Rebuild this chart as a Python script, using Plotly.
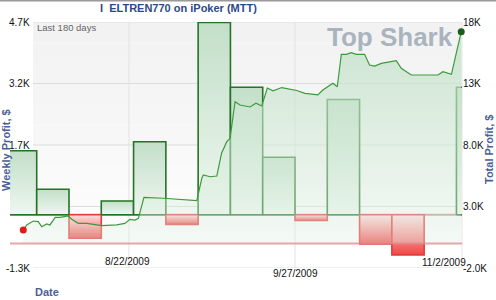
import plotly.graph_objects as go
from datetime import datetime, timedelta

# ---------------- data ----------------
week_starts = ['2009-07-26', '2009-08-02', '2009-08-09', '2009-08-16', '2009-08-23',
               '2009-08-30', '2009-09-06', '2009-09-13', '2009-09-20', '2009-09-27',
               '2009-10-04', '2009-10-11', '2009-10-18', '2009-10-25', '2009-11-01']
weekly_profit = [1560, 620, -575, 335, 1780, -235, 4690, 3110, 1400, -140,
                 2810, -715, -980, 0, 3110]

total_dates = ['2009-07-30 02:00', '2009-07-30 20:00', '2009-08-01 06:00', '2009-08-02 08:00',
               '2009-08-03 02:00', '2009-08-04 04:00', '2009-08-04 21:00', '2009-08-06 00:00',
               '2009-08-07 01:00', '2009-08-08 20:00', '2009-08-09 14:00', '2009-08-11 00:00',
               '2009-08-12 20:00', '2009-08-14 06:00', '2009-08-16 02:00', '2009-08-19 08:00',
               '2009-08-21 03:00', '2009-08-22 05:00', '2009-08-23 08:00', '2009-08-24 01:00',
               '2009-08-25 06:00', '2009-08-29 11:00', '2009-09-02 02:00', '2009-09-05 17:00',
               '2009-09-06 19:00', '2009-09-07 03:00', '2009-09-08 14:00', '2009-09-10 01:00',
               '2009-09-11 02:00', '2009-09-12 05:00', '2009-09-12 22:00', '2009-09-14 00:00',
               '2009-09-15 02:00', '2009-09-16 04:00', '2009-09-17 06:00', '2009-09-18 13:00',
               '2009-09-19 19:00', '2009-09-21 00:00', '2009-09-22 06:00', '2009-09-24 03:00',
               '2009-09-27 09:00', '2009-09-29 04:00', '2009-10-01 23:00', '2009-10-03 01:00',
               '2009-10-04 12:00', '2009-10-05 05:00', '2009-10-06 04:00', '2009-10-07 01:00',
               '2009-10-08 03:00', '2009-10-09 05:00', '2009-10-10 07:00', '2009-10-12 02:00',
               '2009-10-13 04:00', '2009-10-14 06:00', '2009-10-15 17:00', '2009-10-18 23:00',
               '2009-10-20 01:00', '2009-10-22 05:00', '2009-10-28 00:00', '2009-10-29 02:00',
               '2009-10-30 22:00', '2009-11-02 01:00']
total_profit = [1090, 1500, 1820, 1770, 1360, 1580, 1500, 2120, 2120, 2230,
                1960, 1630, 1630, 1550, 1440, 1500, 1630, 1960, 1900, 2040,
                3750, 3670, 3590, 3470, 5290, 5560, 5420, 5480, 7330, 8270,
                8540, 11520, 11250, 11170, 11090, 11390, 11170, 12630, 12410, 12670,
                12430, 12200, 12070, 12470, 12880, 13020, 12740, 15370, 15370, 15500,
                15370, 15370, 14500, 14420, 14640, 14850, 14240, 13690, 13690, 13960,
                13750, 17210]

left_ticks = [-1300, 200, 1700, 3200, 4700]
left_ticktext = ['-1.3K', '', '1.7K', '3.2K', '4.7K']
right_ticks = [-2000, 3000, 8000, 13000, 18000]
right_ticktext = ['-2.0K', '3.0K', '8.0K', '13K', '18K']
x_label_dates = ['2009-08-22', '2009-09-27', '2009-11-02']
x_label_text = ['8/22/2009', '9/27/2009', '11/2/2009']

title_text = 'I  ELTREN770 on iPoker (MTT)'
x_range = ['2009-07-27 05:00', '2009-11-02 05:00']

# ---------------- figure ----------------
W, H = 496, 300
ML, MR, MT, MB = 10, 34, 22, 32
PW, PH = W - ML - MR, H - MT - MB


def px_x(px):
    return (px - ML) / PW


def px_y(py):
    return (H - MB - py) / PH


fig = go.Figure()

# total profit fill (below bars)
fig.add_trace(go.Scatter(
    x=total_dates, y=total_profit, yaxis='y2', mode='lines',
    line=dict(width=0, color='rgba(0,0,0,0)'), fill='tozeroy',
    fillgradient=dict(type='vertical', start=0, stop=max(total_profit),
                      colorscale=[[0, 'rgba(225,241,228,0.35)'], [1, 'rgba(192,224,199,0.8)']]),
    hoverinfo='skip', showlegend=False))

# weekly bars as filled rectangles with vertical gradient
for ws, v in zip(week_starts, weekly_profit):
    if v == 0:
        continue
    d0 = datetime.strptime(ws, '%Y-%m-%d')
    d1 = d0 + timedelta(days=7)
    xs = [d0, d0, d1, d1, d0]
    ys = [0, v, v, 0, 0]
    if v > 0:
        border = '#267326'
        cs = [[0, '#eef7f0'], [1, '#c3dfc9']]
    else:
        border = '#e23b3b'
        cs = [[0, '#f14646'], [1, '#fde2e2']]
    fig.add_trace(go.Scatter(
        x=xs, y=ys, mode='lines', fill='toself',
        line=dict(color=border, width=1.6),
        fillgradient=dict(type='vertical', colorscale=cs),
        hoverinfo='skip', showlegend=False))

# total profit line (above bars)
fig.add_trace(go.Scatter(
    x=total_dates, y=total_profit, yaxis='y2', mode='lines',
    line=dict(color='#3c9a3c', width=1.2),
    hoverinfo='skip', showlegend=False))

# start / end markers
fig.add_trace(go.Scatter(
    x=[total_dates[0], total_dates[-1]], y=[total_profit[0], total_profit[-1]],
    yaxis='y2', mode='markers',
    marker=dict(size=7, color=['#e01b1b', '#1b5e1b']),
    hoverinfo='skip', showlegend=False, cliponaxis=False))

shapes = []
# background gradient bands (start at 8/1 like the reference)
bg_x0 = px_x(33)
nb = 12
for i in range(nb):
    t = i / (nb - 1)
    c = int(242 + (255 - 242) * t)
    shapes.append(dict(type='rect', xref='paper', yref='paper', x0=bg_x0, x1=1,
                       y0=1 - (i + 1) / nb, y1=1 - i / nb,
                       fillcolor=f'rgb({c},{c},{c})', line=dict(width=0), layer='below'))
# horizontal grid lines
for t in left_ticks:
    shapes.append(dict(type='line', xref='paper', yref='y', x0=bg_x0, x1=1, y0=t, y1=t,
                       line=dict(color='#dcdcdc', width=1), layer='below'))
# vertical grid lines
for d in x_label_dates[:2]:
    shapes.append(dict(type='line', xref='x', yref='paper', x0=d, x1=d, y0=0, y1=1,
                       line=dict(color='#e2e2e2', width=1), layer='below'))
shapes.append(dict(type='line', xref='paper', yref='paper', x0=1, x1=1, y0=0, y1=1,
                   line=dict(color='#e6e6e6', width=1), layer='below'))
# weekly zero baseline
shapes.append(dict(type='line', xref='paper', yref='y', x0=0, x1=1, y0=0, y1=0,
                   line=dict(color='#b09a8a', width=2), layer='below'))
# total zero line
shapes.append(dict(type='line', xref='paper', yref='y2', x0=0, x1=1, y0=0, y1=0,
                   line=dict(color='rgba(222,140,140,0.75)', width=2), layer='above'))
# top grey rule
shapes.append(dict(type='line', xref='paper', yref='paper', x0=px_x(0), x1=px_x(W),
                   y0=px_y(0.5), y1=px_y(0.5), line=dict(color='#9a9a9a', width=2)))

annotations = []
for t, txt in zip(left_ticks, left_ticktext):
    if txt:
        annotations.append(dict(x=px_x(32), y=t, xref='paper', yref='y', text=txt,
                                xanchor='right', yanchor='middle', showarrow=False,
                                font=dict(size=10, color='#111')))
x_label_py = [261, 273, 262]
x_label_shift = [-1, 0, -17]
for d, txt, py, sh in zip(x_label_dates, x_label_text, x_label_py, x_label_shift):
    annotations.append(dict(x=d, y=px_y(py), xref='x', yref='paper', text=txt,
                            xanchor='center', yanchor='middle', showarrow=False,
                            xshift=sh, font=dict(size=10, color='#111')))
annotations += [
    dict(x=px_x(178), y=px_y(8), xref='paper', yref='paper', text=title_text,
         showarrow=False, xanchor='center', yanchor='middle',
         font=dict(size=11, color='#2b4a8b', family='Liberation Sans, Arial', weight='bold')),
    dict(x=px_x(35), y=px_y(27), xref='paper', yref='paper', text='Last 180 days',
         showarrow=False, xanchor='left', yanchor='middle',
         font=dict(size=9.5, color='#666')),
    dict(x=px_x(390), y=px_y(37), xref='paper', yref='paper', text='Top Shark',
         showarrow=False, xanchor='center', yanchor='middle',
         font=dict(size=26, color='#aab4be', weight='bold')),
    dict(x=px_x(6), y=px_y(150), xref='paper', yref='paper', text='Weekly Profit, $',
         showarrow=False, textangle=-90, xanchor='center', yanchor='middle',
         font=dict(size=11, color='#4a5f96', weight='bold')),
    dict(x=px_x(489), y=px_y(150), xref='paper', yref='paper', text='Total Profit, $',
         showarrow=False, textangle=-90, xanchor='center', yanchor='middle',
         font=dict(size=11, color='#4a5f96', weight='bold')),
    dict(x=px_x(33), y=px_y(292), xref='paper', yref='paper', text='Date',
         showarrow=False, xanchor='left', yanchor='middle',
         font=dict(size=11, color='#4a5f96', weight='bold')),
]

fig.update_layout(
    width=W, height=H,
    margin=dict(l=ML, r=MR, t=MT, b=MB, pad=0),
    paper_bgcolor='white', plot_bgcolor='white',
    font=dict(family='Liberation Sans, Arial, sans-serif', size=10, color='#111'),
    showlegend=False,
    xaxis=dict(type='date', range=x_range, showgrid=False, zeroline=False,
               showticklabels=False, ticks='', showline=False, fixedrange=True),
    yaxis=dict(range=[left_ticks[0], left_ticks[-1]], showgrid=False, zeroline=False,
               showticklabels=False, ticks='', showline=False, tickvals=left_ticks),
    yaxis2=dict(range=[right_ticks[0], right_ticks[-1]], overlaying='y', side='right',
                showgrid=False, zeroline=False, tickvals=right_ticks, ticktext=right_ticktext,
                ticks='', showline=False, tickfont=dict(size=10, color='#111')),
    shapes=shapes,
    annotations=annotations,
)

fig.write_html('out.html')
